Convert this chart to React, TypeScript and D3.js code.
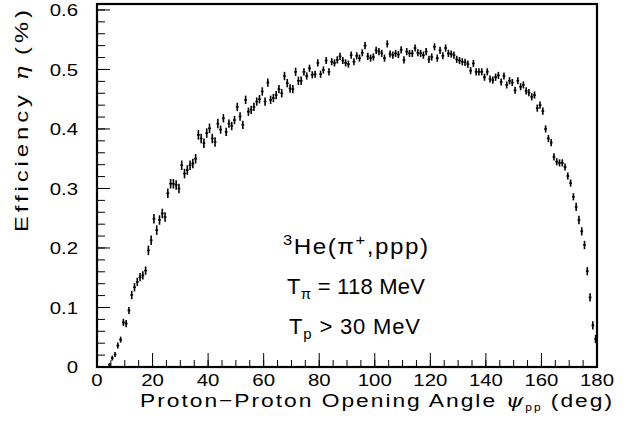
import React from "react";
import * as d3 from "d3";

// Efficiency per 1-degree bin, first bin centred at 4.5 deg
const efficiency: number[] = [
  0.004, 0.015, 0.021, 0.036, 0.046, 0.075, 0.073, 0.095, 0.121, 0.134,
  0.143, 0.151, 0.154, 0.162, 0.196, 0.213, 0.249, 0.230, 0.247, 0.258,
  0.252, 0.292, 0.308, 0.308, 0.306, 0.300, 0.339, 0.325, 0.331, 0.339,
  0.342, 0.350, 0.390, 0.384, 0.376, 0.393, 0.401, 0.384, 0.378, 0.409,
  0.399, 0.418, 0.395, 0.409, 0.405, 0.415, 0.437, 0.421, 0.407, 0.449,
  0.429, 0.432, 0.437, 0.446, 0.450, 0.463, 0.446, 0.478, 0.449, 0.452,
  0.457, 0.467, 0.460, 0.489, 0.477, 0.468, 0.467, 0.496, 0.481, 0.481,
  0.496, 0.489, 0.502, 0.491, 0.492, 0.511, 0.492, 0.499, 0.515, 0.496,
  0.513, 0.511, 0.516, 0.522, 0.515, 0.511, 0.509, 0.524, 0.513, 0.523,
  0.519, 0.528, 0.540, 0.522, 0.519, 0.521, 0.532, 0.530, 0.527, 0.519,
  0.543, 0.526, 0.524, 0.527, 0.525, 0.533, 0.516, 0.530, 0.527, 0.527,
  0.536, 0.528, 0.527, 0.524, 0.530, 0.517, 0.521, 0.538, 0.519, 0.532,
  0.523, 0.536, 0.527, 0.526, 0.524, 0.517, 0.515, 0.513, 0.512, 0.509,
  0.498, 0.510, 0.496, 0.496, 0.496, 0.487, 0.496, 0.484, 0.482, 0.487,
  0.490, 0.479, 0.489, 0.474, 0.481, 0.478, 0.465, 0.481, 0.471, 0.474,
  0.464, 0.461, 0.454, 0.457, 0.435, 0.440, 0.430, 0.400, 0.384, 0.377,
  0.353, 0.345, 0.343, 0.343, 0.336, 0.321, 0.309, 0.286, 0.269, 0.247,
  0.228, 0.205, 0.161, 0.117, 0.070, 0.047,
];

const errors: number[] = [
  0.003, 0.004, 0.004, 0.005, 0.005, 0.006, 0.006, 0.006, 0.007, 0.007,
  0.007, 0.007, 0.007, 0.007, 0.008, 0.008, 0.008, 0.008, 0.008, 0.008,
  0.008, 0.008, 0.008, 0.008, 0.008, 0.008, 0.008, 0.008, 0.008, 0.008,
  0.008, 0.008, 0.008, 0.008, 0.008, 0.008, 0.008, 0.008, 0.008, 0.008,
  0.007, 0.007, 0.007, 0.007, 0.007, 0.007, 0.007, 0.007, 0.007, 0.007,
  0.007, 0.007, 0.007, 0.007, 0.007, 0.007, 0.007, 0.007, 0.007, 0.007,
  0.007, 0.007, 0.007, 0.007, 0.007, 0.007, 0.007, 0.007, 0.007, 0.007,
  0.006, 0.006, 0.006, 0.006, 0.006, 0.006, 0.006, 0.006, 0.006, 0.006,
  0.006, 0.006, 0.006, 0.006, 0.006, 0.006, 0.006, 0.006, 0.006, 0.006,
  0.006, 0.006, 0.006, 0.006, 0.006, 0.006, 0.006, 0.006, 0.006, 0.006,
  0.006, 0.006, 0.006, 0.006, 0.006, 0.006, 0.006, 0.006, 0.006, 0.006,
  0.006, 0.006, 0.006, 0.006, 0.006, 0.006, 0.006, 0.006, 0.006, 0.006,
  0.006, 0.006, 0.006, 0.006, 0.006, 0.006, 0.006, 0.006, 0.006, 0.006,
  0.006, 0.006, 0.006, 0.006, 0.006, 0.006, 0.006, 0.006, 0.006, 0.006,
  0.006, 0.006, 0.006, 0.006, 0.006, 0.006, 0.006, 0.006, 0.006, 0.006,
  0.006, 0.006, 0.006, 0.006, 0.006, 0.006, 0.006, 0.006, 0.006, 0.006,
  0.006, 0.006, 0.006, 0.006, 0.006, 0.006, 0.006, 0.006, 0.007, 0.007,
  0.007, 0.007, 0.007, 0.007, 0.007, 0.007,
];

const firstBinCentre = 4.5;
const binWidth = 1;

const xTickLabels = [0, 20, 40, 60, 80, 100, 120, 140, 160, 180];
const yTickLabels = [0, 0.1, 0.2, 0.3, 0.4, 0.5, 0.6];

const W = 630;
const H = 428;
const FONT = "'Liberation Sans', Arial, Helvetica, sans-serif";
const SX = 1.2; // horizontal stretch of the wide axis font

export default function App() {
  const x = d3.scaleLinear().domain([0, 180]).range([97, 597]);
  const y = d3.scaleLinear().domain([0, 0.61]).range([367, 4]);

  const points = efficiency.map((v, i) => ({
    a: firstBinCentre + i * binWidth,
    v,
    e: errors[i],
  }));

  const xMinor = d3.range(0, 181, 5);
  const yMinor = d3.range(0, 0.61, 0.02);

  return (
    <svg
      width={W}
      height={H}
      style={{ position: "absolute", left: 0, top: 0, background: "#fff" }}
      fontFamily={FONT}
    >
      <rect x={0} y={0} width={W} height={H} fill="#fff" />
      {/* minor ticks */}
      {xMinor.map((t) => (
        <line key={"xm" + t} x1={x(t)} x2={x(t)} y1={y(0)} y2={y(0) - 7} stroke="#000" strokeWidth={1} />
      ))}
      {xTickLabels.map((t) => (
        <line key={"xM" + t} x1={x(t)} x2={x(t)} y1={y(0)} y2={y(0) - 14} stroke="#000" strokeWidth={1} />
      ))}
      {yMinor.map((t, i) => (
        <line key={"ym" + i} x1={x(0)} x2={x(0) + 8} y1={y(t)} y2={y(t)} stroke="#000" strokeWidth={1} />
      ))}
      {yTickLabels.map((t) => (
        <line key={"yM" + t} x1={x(0)} x2={x(0) + 13} y1={y(t)} y2={y(t)} stroke="#000" strokeWidth={1} />
      ))}

      {/* data with error bars */}
      <g stroke="#000" strokeWidth={1.6}>
        {points.map((p, i) => (
          <g key={i}>
            <line x1={x(p.a)} x2={x(p.a)} y1={y(p.v - p.e)} y2={y(p.v + p.e)} />
            <line x1={x(p.a - binWidth / 2)} x2={x(p.a + binWidth / 2)} y1={y(p.v)} y2={y(p.v)} />
          </g>
        ))}
      </g>

      {/* frame */}
      <rect
        x={x(0)}
        y={y(0.61)}
        width={x(180) - x(0)}
        height={y(0) - y(0.61)}
        fill="none"
        stroke="#000"
        strokeWidth={2.2}
      />

      {/* tick labels */}
      {yTickLabels.map((t) => (
        <g key={"yl" + t} transform={`translate(78,${y(t)}) scale(${SX},1)`}>
          <text x={0} y={0} dy="0.36em" textAnchor="end" fontSize={17}>
            {t === 0 ? "0" : t.toFixed(1)}
          </text>
        </g>
      ))}
      {xTickLabels.map((t) => (
        <g key={"xl" + t} transform={`translate(${x(t)},386) scale(${SX},1)`}>
          <text x={0} y={0} textAnchor="middle" fontSize={17}>
            {t}
          </text>
        </g>
      ))}

      {/* axis titles */}
      <g transform={`translate(140,407) scale(1.2,1)`}>
        <text x={0} y={0} fontSize={19} textLength={472 / 1.2} lengthAdjust="spacing">
          Proton−Proton Opening Angle{" "}
          <tspan fontStyle="italic" fontFamily="'DejaVu Serif', serif">ψ</tspan>
          <tspan fontSize={10} dy={4}>pp</tspan>
          <tspan dy={-4}> (deg)</tspan>
        </text>
      </g>
      <g transform="translate(28,121) rotate(-90) scale(1.25,1)">
        <text
          x={0}
          y={0}
          textAnchor="middle"
          fontSize={19}
          textLength={222 / 1.25}
          lengthAdjust="spacing"
        >
          Efficiency <tspan fontStyle="italic" fontFamily="'DejaVu Serif', serif">η</tspan>
          <tspan dx={6}>(%)</tspan>
        </text>
      </g>

      {/* annotation */}
      <g transform="translate(283,254) scale(1.1,1)">
        <text x={0} y={0} fontSize={22} textLength={145 / 1.1} lengthAdjust="spacing">
          <tspan fontSize={15} dy={-9}>3</tspan>
          <tspan dy={9}>He(π</tspan>
          <tspan fontSize={15} dy={-9}>+</tspan>
          <tspan dy={9}>,ppp)</tspan>
        </text>
      </g>
      <text x={287} y={294} fontSize={22} textLength={138} lengthAdjust="spacing">
        T<tspan fontSize={15} dy={5}>π</tspan>
        <tspan dy={-5}> = 118 MeV</tspan>
      </text>
      <text x={289} y={334} fontSize={22} textLength={131} lengthAdjust="spacing">
        T<tspan fontSize={15} dy={5}>p</tspan>
        <tspan dy={-5}> &gt; 30 MeV</tspan>
      </text>
    </svg>
  );
}
